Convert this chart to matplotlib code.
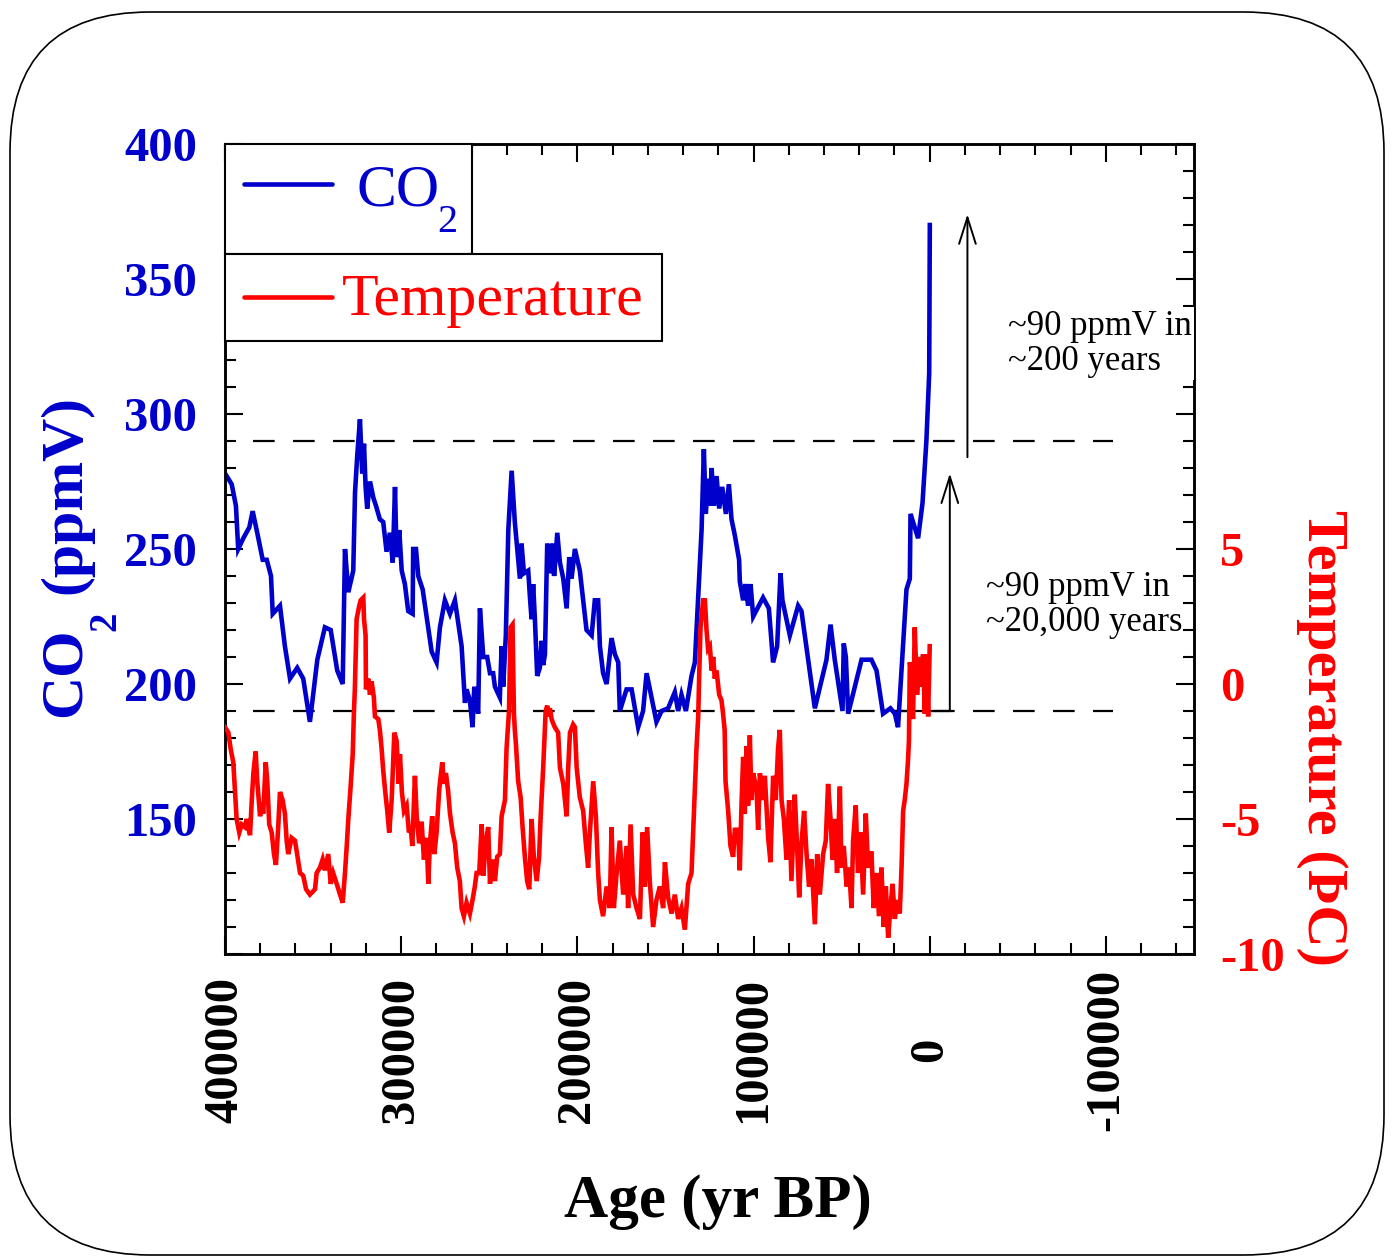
import matplotlib
matplotlib.use("Agg")
import matplotlib.pyplot as plt
from matplotlib.ticker import MultipleLocator
from matplotlib.patches import Rectangle, FancyBboxPatch, FancyArrowPatch, ArrowStyle
from matplotlib.lines import Line2D
from matplotlib.transforms import IdentityTransform

plt.rcParams['font.family'] = ['Liberation Serif', 'DejaVu Serif']
plt.rcParams['axes.unicode_minus'] = False
plt.rcParams['lines.scale_dashes'] = False

BLUE = '#0000CC'
RED = '#FF0000'

# Vostok CO2 record: age (yr BP) and concentration (ppmV)
co2_age = [400000, 396200, 393800, 392500, 389600, 386200, 384300, 381700, 378600, 376300,
           373900, 372900, 368800, 366000, 363100, 359000, 355600, 351800, 347600, 343300,
           340000, 336300, 333200, 331900, 330000, 327200, 326200, 324900, 323400, 322100,
           321100, 320200, 319300, 317700, 315800, 314300, 312100, 310200, 308300, 306400,
           304800, 303500, 302600, 301100, 299700, 297900, 296000, 293500, 293200, 291600,
           290300, 287800, 282700, 279900, 278000, 275200, 272300, 269500, 265700, 263800,
           262900, 261000, 259500, 258500, 256300, 255300, 253400, 251200, 249600, 247800,
           246800, 244000, 243000, 242100, 240600, 239200, 237300, 235500, 233600, 232600,
           231700, 230300, 227900, 226900, 226000, 225100, 224100, 222800, 221300, 220300,
           219400, 218400, 217100, 215600, 214100, 213200, 211400, 209900, 208000, 206100,
           204600, 203300, 201400, 198600, 194800, 191900, 190100, 188200, 187200, 185400,
           183400, 180600, 178700, 176800, 175900, 172100, 169200, 165500, 162700, 160700,
           155100, 152200, 148500, 144700, 142800, 140900, 138400, 136200, 135200, 133300,
           129500, 128200, 127100, 125800, 124800, 123800, 122500, 121000, 119500, 117800,
           115700, 114000, 112500, 110600, 108200, 107800, 105900, 104600, 103100, 101700,
           100200, 94600, 91300, 88900, 86600, 84700, 83600, 79400, 74700, 72800,
           65200, 58600, 56300, 53900, 49500, 48800, 47600, 46300, 38700, 33100,
           30200, 26500, 22300, 19800, 18000, 13200, 11300, 10900, 6600, 4100,
           1900, 300, -50]
co2_ppm = [278, 274, 266, 250, 254, 258, 264, 256, 246, 246,
           240, 226, 229, 214, 202, 206, 202, 186, 209, 221,
           220, 205, 200, 250, 234, 242, 271, 285, 298, 278,
           289, 273, 265, 275, 269, 266, 261, 260, 249, 256,
           245, 273, 247, 257, 242, 237, 227, 226, 250, 250,
           240, 235, 212, 208, 221, 231, 226, 231, 214, 193,
           198, 194, 184, 199, 189, 228, 210, 210, 204, 204,
           199, 195, 214, 199, 218, 257, 279, 260, 246, 239,
           252, 241, 242, 232, 224, 237, 224, 203, 206, 216,
           207, 211, 252, 241, 252, 240, 256, 245, 239, 228,
           247, 239, 250, 242, 220, 218, 231, 231, 214, 204,
           200, 217, 211, 208, 190, 198, 198, 184, 190, 204,
           186, 190, 191, 197, 190, 196, 190, 199, 203, 208,
           257, 287, 263, 276, 266, 280, 266, 277, 265, 273,
           263, 274, 261, 255, 246, 238, 231, 237, 229, 237,
           225, 232, 228, 208, 214, 241, 231, 218, 229, 227,
           191, 209, 222, 209, 190, 215, 210, 189, 209, 209,
           205, 189, 191, 189, 184, 235, 239, 263, 254, 267,
           290, 315, 370]

# temperature anomaly (deg C) from the deuterium record
temp_age = [400000, 398100, 396800, 395300, 394300, 393400, 391900, 390500, 388700, 387700,
            385800, 384800, 383900, 382600, 381700, 380100, 379200, 378300, 376900, 376000,
            374900, 373500, 372200, 371100, 369800, 368800, 367300, 366000, 365000, 364100,
            362200, 360300, 359300, 357400, 355600, 354000, 351800, 348900, 348000, 346100,
            344600, 343300, 341400, 340000, 338600, 336600, 334700, 333200, 331900, 330900,
            330000, 328700, 327500, 326800, 326300, 325300, 323800, 323000, 321500, 321100,
            320200, 320000, 318700, 317700, 316800, 315500, 314900, 313000, 312100, 311100,
            310200, 309200, 307900, 306800, 305400, 303900, 302600, 301400, 300700, 299600,
            298400, 296900, 295600, 294600, 293700, 292200, 291200, 289800, 288400, 287100,
            285600, 284600, 283700, 282400, 281200, 279900, 278400, 276700, 275700, 274600,
            273300, 272300, 270800, 269500, 268200, 266700, 265700, 264400, 262900, 261000,
            259500, 258200, 257200, 255700, 254300, 253400, 251900, 250600, 249600, 248100,
            246800, 245500, 244000, 243000, 241100, 240200, 238800, 237900, 236800, 236000,
            235500, 234900, 233600, 232200, 231100, 229800, 228500, 227300, 226000, 224700,
            223100, 221700, 220900, 219400, 218000, 217100, 216600, 215600, 214600, 214100,
            212800, 210900, 209900, 208000, 206100, 205200, 204200, 202400, 201400, 200400,
            198600, 196700, 195200, 193900, 192900, 191000, 189500, 188200, 187200, 185400,
            183400, 181600, 180600, 179300, 177700, 175900, 174000, 172100, 171200, 169800,
            168300, 166400, 164500, 163000, 161700, 160400, 158900, 157000, 155100, 153200,
            151300, 150300, 148500, 146500, 144700, 142800, 140900, 139000, 137100, 135200,
            134300, 133300, 132400, 131400, 130900, 130100, 128600, 127600, 126700, 125800,
            124800, 123800, 122900, 122000, 121000, 119500, 118200, 117300, 116400, 115900,
            114400, 113100, 111600, 110600, 108800, 107800, 106800, 105900, 105000, 104000,
            103100, 102100, 101200, 100200, 98300, 97400, 96400, 94900, 93600, 91700,
            90400, 88900, 87400, 86100, 85100, 84100, 82800, 81300, 79800, 78500,
            76600, 75300, 74100, 72800, 71300, 69900, 68500, 67100, 65200, 63900,
            62400, 60500, 59000, 57700, 56300, 55200, 53900, 52600, 51000, 50100,
            48800, 47200, 45800, 44400, 43500, 42000, 40700, 39300, 37800, 36300,
            35000, 33100, 31800, 30200, 28800, 27400, 26100, 24900, 23600, 22300,
            21100, 19800, 18500, 17000, 16000, 15100, 14200, 13200, 12300, 11800,
            11300, 10400, 9500, 8500, 7200, 5700, 4700, 3800, 2800, 1900,
            900, 0]
temp_dev = [-1.6, -1.8, -2.4, -2.9, -4.0, -5.0, -5.5, -5.2, -5.3, -5.0,
            -5.6, -4.3, -3.3, -2.5, -3.6, -4.9, -4.4, -4.8, -2.9, -3.6,
            -5.2, -5.5, -6.3, -6.7, -5.3, -4.0, -4.3, -4.8, -5.8, -6.3,
            -5.7, -5.8, -6.2, -7.0, -7.1, -7.6, -7.8, -7.6, -7.0, -6.8,
            -6.5, -6.9, -6.3, -7.4, -7.0, -7.4, -7.8, -8.1, -7.0, -6.0,
            -5.0, -3.8, -2.6, -1.0, -0.2, 2.4, 2.9, 3.1, 3.2, 2.4,
            1.8, -0.2, 0.2, -0.4, 0.1, -0.5, -1.2, -1.3, -1.7, -2.4,
            -3.2, -3.9, -4.7, -5.5, -4.3, -1.8, -2.1, -3.7, -2.6, -4.0,
            -4.7, -4.5, -5.5, -5.3, -6.0, -3.4, -4.9, -5.9, -5.1, -6.5,
            -5.7, -7.4, -5.9, -4.9, -6.3, -5.5, -3.9, -2.9, -3.7, -3.3,
            -4.0, -4.8, -5.5, -5.9, -6.8, -7.3, -8.3, -8.6, -8.1, -8.5,
            -8.0, -7.5, -7.0, -7.0, -5.2, -7.1, -5.8, -5.3, -7.4, -6.5,
            -7.3, -6.4, -6.3, -4.9, -4.3, -2.4, -1.0, 2.1, 2.2, -1.1,
            -1.7, -2.2, -3.6, -4.2, -5.3, -6.4, -7.3, -7.6, -5.0, -6.4,
            -7.3, -6.4, -5.0, -3.1, -1.0, -0.8, -1.2, -0.9, -1.3, -1.4,
            -1.6, -1.8, -3.1, -3.7, -4.9, -3.1, -1.8, -1.5, -1.6, -3.1,
            -4.2, -4.7, -5.9, -6.8, -5.5, -3.6, -4.9, -7.0, -8.0, -8.6,
            -7.5, -8.3, -5.3, -8.3, -7.0, -5.8, -7.8, -6.0, -8.3, -5.2,
            -7.8, -8.3, -8.7, -5.5, -7.5, -5.3, -7.3, -9.0, -8.0, -7.5,
            -8.3, -6.6, -7.9, -8.5, -7.8, -8.7, -8.3, -9.1, -7.4, -7.0,
            -5.5, -3.8, -2.4, -1.2, 0.2, 2.1, 3.1, 3.1, 2.0, 1.3,
            1.4, 0.5, 1.0, 0.2, 0.5, -0.4, -0.6, -1.1, -1.7, -3.6,
            -4.7, -6.0, -6.4, -5.4, -5.4, -6.9, -4.4, -2.7, -4.8, -2.3,
            -4.5, -1.9, -4.3, -3.3, -3.9, -5.4, -3.3, -4.3, -3.4, -5.7,
            -6.6, -3.4, -4.3, -2.4, -1.7, -4.3, -5.0, -6.5, -4.3, -7.3,
            -4.1, -6.0, -7.9, -5.9, -4.7, -6.3, -7.5, -6.5, -8.9, -6.3,
            -7.8, -6.3, -5.8, -3.7, -5.0, -6.5, -5.0, -7.0, -3.8, -6.8,
            -6.0, -7.5, -6.8, -8.3, -5.8, -4.5, -7.0, -5.5, -7.8, -4.8,
            -6.8, -6.2, -8.3, -7.0, -8.6, -6.8, -9.0, -7.5, -9.4, -8.3,
            -7.4, -8.7, -8.0, -8.5, -6.8, -4.7, -4.3, -3.7, -2.8, -2.1,
            0.8, 0.4, -1.3, 2.1, -0.4, 1.0, -0.1, 1.1, -1.1, 1.1,
            -1.2, 1.4]

x_ticks = [400000, 300000, 200000, 100000, 0, -100000]
co2_ticks = [100, 150, 200, 250, 300, 350, 400]
co2_ticklabels = ['', '150', '200', '250', '300', '350', '400']
temp_ticks = [-10, -5, 0, 5, 10, 15, 20]
temp_ticklabels = ['-10', '-5', '0', '5', '', '', '']

glacial_ppm = 190
interglacial_ppm = 290
rise_slow = (-11400, 190, 278)     # age, start, end of the ~20,000 yr rise arrow
rise_fast = (-21400, 284, 374)     # age, start, end of the ~200 yr rise arrow

W, H = 1394, 1257


def px(x, y):
    # pixel position (from top-left) -> figure fraction
    return x / W, 1 - y / H


fig = plt.figure(figsize=(W / 100, H / 100), dpi=100)
fig.patch.set_facecolor('white')

ax = fig.add_axes([225 / W, 1 - 954 / H, (1194 - 225) / W, (954 - 144) / H])
ax2 = ax.twinx()

ax.plot(co2_age, co2_ppm, color=BLUE, lw=3.3, solid_joinstyle='miter', zorder=3)
ax2.plot(temp_age, temp_dev, color=RED, lw=3.3, solid_joinstyle='miter', zorder=3)

ax.set_xlim(400000, -150000)
ax.set_ylim(100, 400)
ax2.set_ylim(-10, 20)

# reference levels and the rise arrows
for lev in (interglacial_ppm, glacial_ppm):
    ax.plot([384000, -104000], [lev, lev], color='black', lw=1.6,
            dashes=(15.6, 13.2), zorder=2)
ax.plot([21500, rise_slow[0]], [glacial_ppm, glacial_ppm], color='black', lw=1.6, zorder=2)
for xa, y0, y1 in (rise_slow, rise_fast):
    arr = FancyArrowPatch((xa, y0), (xa, y1),
                          arrowstyle=ArrowStyle('->', head_length=19, head_width=6),
                          mutation_scale=1, lw=1.4, color='black', zorder=4,
                          shrinkA=0, shrinkB=0)
    ax.add_patch(arr)

ax2.text(-44300, 326.1 / 10 - 20, '~90 ppmV in\n~200 years', fontsize=25,
         ha='left', va='center', linespacing=1.08, zorder=6,
         bbox=dict(facecolor='white', edgecolor='none', pad=2))
ax2.text(-32200, 229.3 / 10 - 20, '~90 ppmV in\n~20,000 years', fontsize=25,
         ha='left', va='center', linespacing=1.08, zorder=6)

# ticks
tick_kw = dict(direction='in', width=1.5)
ax.xaxis.set_major_locator(MultipleLocator(100000))
ax.xaxis.set_minor_locator(MultipleLocator(20000))
ax.set_xticks(x_ticks)
ax.set_xticklabels([str(t) for t in x_ticks], rotation=90, va='center',
                   fontsize=35, fontweight='bold')
ax.tick_params(axis='x', which='both', top=True, bottom=True, **tick_kw)
ax.tick_params(axis='x', which='major', length=13, pad=69)
ax.tick_params(axis='x', which='minor', length=8)

ax.set_yticks(co2_ticks)
ax.set_yticklabels(co2_ticklabels, fontsize=35, fontweight='bold', color=BLUE)
ax.yaxis.set_minor_locator(MultipleLocator(10))
ax.tick_params(axis='y', which='both', left=True, right=False, **tick_kw)
ax.tick_params(axis='y', which='major', length=13, pad=20)
ax.tick_params(axis='y', which='minor', length=8)
for lbl in ax.get_yticklabels():
    lbl.set_y(lbl.get_position()[1])
    lbl.set_va('center_baseline')

ax2.set_yticks(temp_ticks)
ax2.set_yticklabels(temp_ticklabels, fontsize=35, fontweight='bold', color=RED)
ax2.yaxis.set_minor_locator(MultipleLocator(1))
ax2.tick_params(axis='y', which='both', **tick_kw)
ax2.tick_params(axis='y', which='major', length=13, pad=19)
ax2.tick_params(axis='y', which='minor', length=8)

for a in (ax, ax2):
    for sp in a.spines.values():
        sp.set_linewidth(1.8)

# legend boxes in the upper-left corner
tr = ax2.transAxes
ax2.add_patch(Rectangle((0, 0.8642), 0.2549, 0.1358, transform=tr, fc='white',
                        ec='black', lw=1.5, zorder=10, clip_on=False))
ax2.add_patch(Rectangle((0, 0.7568), 0.451, 0.1074, transform=tr, fc='white',
                        ec='black', lw=1.5, zorder=10, clip_on=False))
ax2.add_line(Line2D([0.0196, 0.1104], [0.9506, 0.9506], transform=tr, color=BLUE,
                    lw=3.3, zorder=11, solid_capstyle='round'))
ax2.add_line(Line2D([0.0196, 0.1104], [0.8111, 0.8111], transform=tr, color=RED,
                    lw=3.3, zorder=11, solid_capstyle='round'))
ax2.text(0.1352, 0.9235, 'CO', transform=tr, fontsize=43, color=BLUE,
         ha='left', va='baseline', zorder=11)
ax2.text(0.2296, 0.8914, '2', transform=tr, fontsize=29, color=BLUE,
         ha='center', va='baseline', zorder=11)
ax2.text(0.1204, 0.7889, 'Temperature', transform=tr, fontsize=43, color=RED,
         ha='left', va='baseline', zorder=11)

# axis titles
fig.text(*px(80, 717), 'CO', fontsize=43, fontweight='bold', color=BLUE,
         rotation=90, rotation_mode='anchor', ha='left', va='baseline')
fig.text(*px(115, 631), '2', fontsize=28, fontweight='bold', color=BLUE,
         rotation=90, rotation_mode='anchor', ha='left', va='baseline')
fig.text(*px(80, 594), '(ppmV)', fontsize=43, fontweight='bold', color=BLUE,
         rotation=90, rotation_mode='anchor', ha='left', va='baseline')
fig.text(*px(1308, 510), 'Temperature (ÞC)', fontsize=42, fontweight='bold', color=RED,
         rotation=270, rotation_mode='anchor', ha='left', va='baseline')
fig.text(*px(718, 1217), 'Age (yr BP)', fontsize=44, fontweight='bold',
         ha='center', va='baseline')

# rounded frame around the whole figure
frame = FancyBboxPatch((10, 2), 1374, 1243, boxstyle='round,pad=0,rounding_size=140',
                       transform=IdentityTransform(), fill=False, ec='black', lw=1.2)
fig.add_artist(frame)

fig.savefig('out.png', dpi=100, facecolor='white')
